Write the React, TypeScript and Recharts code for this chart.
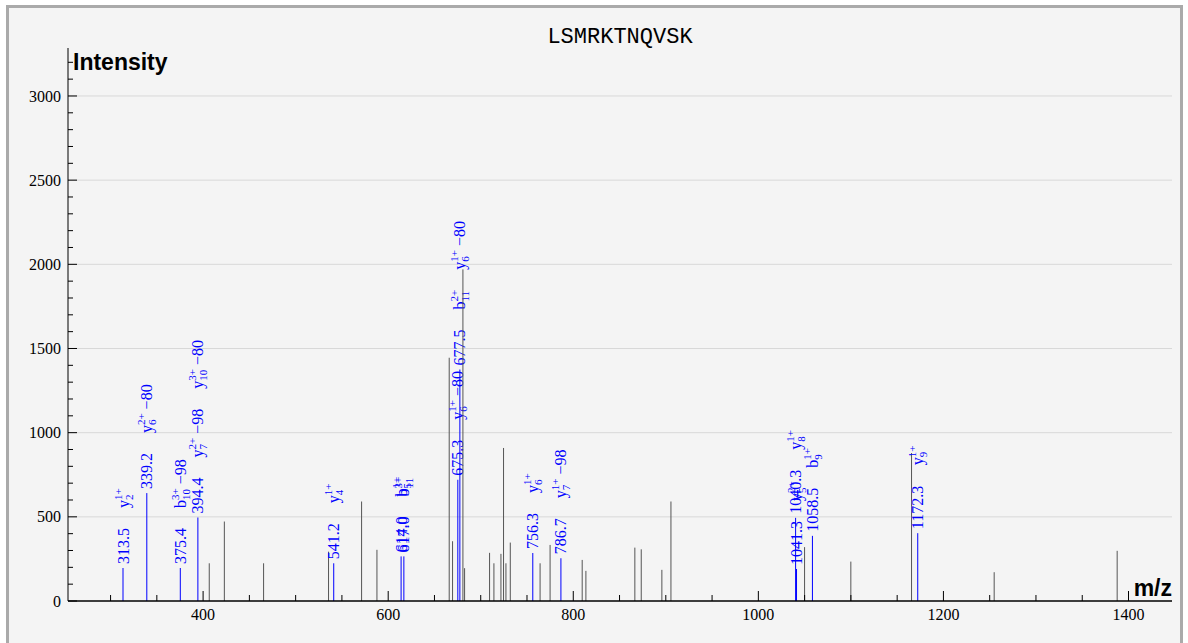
import React from 'react';
import { ComposedChart, Bar, XAxis, YAxis, CartesianGrid } from 'recharts';

// Unannotated peaks (grey)
const grayMz = [406.7, 423.0, 465.4, 535.6, 571.3, 587.9, 666.0, 669.6, 680.8, 682.6, 709.6, 714.3, 721.9, 724.7, 727.3, 732.0, 764.2, 775.0, 809.7, 813.7, 866.6, 873.5, 895.8, 905.6, 1050.0, 1100.0, 1165.6, 1254.9, 1387.8];
const grayIntensity = [224, 472, 224, 293, 591, 304, 1445, 355, 1970, 195, 286, 224, 280, 909, 224, 347, 224, 333, 244, 179, 317, 307, 185, 591, 320, 234, 879, 171, 298];

// Annotated peaks (blue)
const ionMz = [313.5, 339.2, 375.4, 394.4, 541.2, 614.0, 617.0, 675.3, 677.5, 756.3, 786.7, 1040.3, 1041.3, 1058.5, 1172.3];
const ionIntensity = [196, 641, 196, 496, 224, 265, 265, 720, 1375, 285, 254, 494, 190, 387, 403];
// [ion, subscript, superscript, neutral loss]
const ionNames: string[][][] = [
  [['y', '2', '1+', '']],
  [['y', '6', '2+', '−80']],
  [['b', '10', '3+', '−98']],
  [['y', '7', '2+', '−98'], ['y', '10', '3+', '−80']],
  [['y', '4', '1+', '']],
  [['b', '5', '1+', '']],
  [['b', '11', '3+', '']],
  [['y', '6', '1+', '−80']],
  [['b', '11', '2+', ''], ['y', '6', '1+', '−80']],
  [['y', '6', '1+', '']],
  [['y', '7', '1+', '−98']],
  [['y', '8', '1+', '']],
  [['y', '5', '2+', '']],
  [['b', '9', '1+', '']],
  [['y', '9', '1+', '']],
];

const title = 'LSMRKTNQVSK';
const xTicks = [300, 350, 400, 450, 500, 550, 600, 650, 700, 750, 800, 850, 900, 950, 1000, 1050, 1100, 1150, 1200, 1250, 1300, 1350, 1400];
const xLabeled = [400, 600, 800, 1000, 1200, 1400];
const yTicks = [0, 100, 200, 300, 400, 500, 600, 700, 800, 900, 1000, 1100, 1200, 1300, 1400, 1500, 1600, 1700, 1800, 1900, 2000, 2100, 2200, 2300, 2400, 2500, 2600, 2700, 2800, 2900, 3000, 3100, 3200];
const yLabeled = [0, 500, 1000, 1500, 2000, 2500, 3000];
const gridValues = [500, 1000, 1500, 2000, 2500, 3000];

const peaks = [
  ...grayMz.map((mz, i) => ({ mz, intensity: grayIntensity[i], ions: null as any })),
  ...ionMz.map((mz, i) => ({ mz, intensity: ionIntensity[i], ions: ionNames[i] })),
].sort((a, b) => a.mz - b.mz);

const SERIF = '"Liberation Serif", "Times New Roman", serif';
const FS = 16;
const SFS = 11;
const GAP = 20;
const BLUE = '#0000ff';

const charW = (ch: string) => {
  if (/[0-9]/.test(ch)) return 0.5;
  if (ch === '.' || ch === ' ') return 0.25;
  if (ch === '+' || ch === '−') return 0.564;
  return 0.5;
};
const textW = (s: string, fs: number) => s.split('').reduce((a, c) => a + charW(c) * fs, 0);

const PeakShape = (props: any) => {
  const { x, y, width, height, payload } = props;
  const cx = x + width / 2;
  const isIon = !!payload.ions;
  const line = (
    <line x1={cx} x2={cx} y1={y} y2={y + height} stroke={isIon ? BLUE : '#555555'} strokeWidth={1} />
  );
  if (!isIon) return line;
  const items: any[] = [];
  let pos = 0;
  const mzText = payload.mz.toFixed(1);
  items.push(<text key="mz" x={pos} y={0} fontSize={FS}>{mzText}</text>);
  pos += textW(mzText, FS) + GAP;
  payload.ions.forEach((ion: string[], i: number) => {
    const [name, sub, sup, loss] = ion;
    items.push(<text key={'n' + i} x={pos} y={0} fontSize={FS}>{name}</text>);
    const p2 = pos + textW(name, FS);
    items.push(<text key={'p' + i} x={p2} y={-7} fontSize={SFS}>{sup}</text>);
    items.push(<text key={'b' + i} x={p2} y={4} fontSize={SFS}>{sub}</text>);
    pos = p2 + Math.max(textW(sup, SFS), textW(sub, SFS));
    if (loss) {
      pos += 4;
      items.push(<text key={'l' + i} x={pos} y={0} fontSize={FS}>{loss}</text>);
      pos += textW(loss, FS);
    }
    pos += GAP;
  });
  return (
    <g>
      {line}
      <g transform={`translate(${cx + 5.5},${y - 4}) rotate(-90)`} fill={BLUE} fontFamily={SERIF}>
        {items}
      </g>
    </g>
  );
};

const XTick = (props: any) => {
  const { x, y, payload } = props;
  const v = payload.value;
  const major = xLabeled.includes(v);
  return (
    <g>
      <line x1={x} x2={x} y1={y} y2={y - (major ? 10 : 6)} stroke="#000" strokeWidth={1} />
      {major && (
        <text x={x} y={y + 19} textAnchor="middle" fontFamily={SERIF} fontSize={16} fill="#000">
          {v}
        </text>
      )}
    </g>
  );
};

const YTick = (props: any) => {
  const { x, y, payload } = props;
  const v = payload.value;
  const major = yLabeled.includes(v);
  return (
    <g>
      <line x1={x} x2={x + (major ? 9 : 5)} y1={y} y2={y} stroke="#000" strokeWidth={1} />
      {major && (
        <text x={x - 7} y={y} dy="0.35em" textAnchor="end" fontFamily={SERIF} fontSize={16} fill="#000">
          {v}
        </text>
      )}
    </g>
  );
};

export default function App() {
  return (
    <div
      style={{
        position: 'absolute',
        left: 6,
        top: 5,
        width: 1177,
        height: 650,
        boxSizing: 'border-box',
        border: '3px solid #aaaaaa',
        background: '#f4f4f4',
        overflow: 'hidden',
      }}
    >
      <ComposedChart
        width={1171}
        height={644}
        data={peaks}
        margin={{ top: 40, right: 8, left: 9, bottom: 21 }}
      >
        <CartesianGrid horizontalValues={gridValues} vertical={false} stroke="#d8d8d8" />
        <XAxis
          dataKey="mz"
          type="number"
          domain={[254, 1447]}
          ticks={xTicks}
          interval={0}
          tickSize={0}
          tickMargin={0}
          tickLine={false}
          tick={<XTick />}
          height={30}
          axisLine={{ stroke: '#000', strokeWidth: 1.5 }}
        />
        <YAxis
          type="number"
          domain={[0, 3285]}
          ticks={yTicks}
          interval={0}
          tickSize={0}
          tickMargin={0}
          tickLine={false}
          tick={<YTick />}
          width={50}
          axisLine={{ stroke: '#000', strokeWidth: 1 }}
        />
        <Bar dataKey="intensity" barSize={1} isAnimationActive={false} shape={PeakShape} />
      </ComposedChart>
      <svg
        width={1171}
        height={644}
        style={{ position: 'absolute', left: 0, top: 0, pointerEvents: 'none' }}
      >
        <text x={611} y={35} textAnchor="middle" fontFamily='"Liberation Mono", "Courier New", monospace' fontSize={22} fill="#000">
          {title}
        </text>
        <text x={64} y={62} fontFamily='"Liberation Sans", Arial, sans-serif' fontWeight="bold" fontSize={23} fill="#000">
          Intensity
        </text>
        <text x={1163} y={588} textAnchor="end" fontFamily='"Liberation Sans", Arial, sans-serif' fontWeight="bold" fontSize={23} fill="#000">
          m/z
        </text>
      </svg>
    </div>
  );
}
